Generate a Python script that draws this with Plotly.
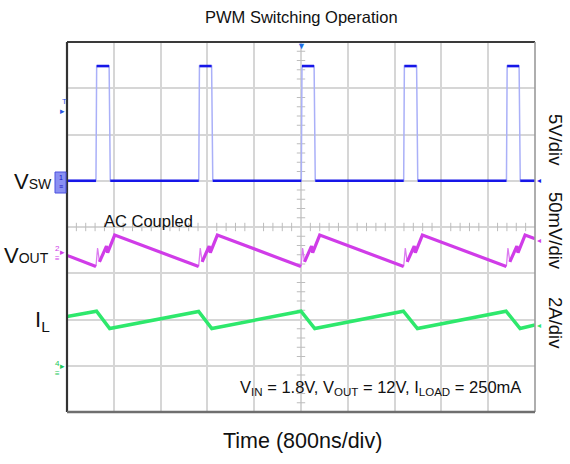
import plotly.graph_objects as go
import numpy as np

# ---------------- data (read from the scope capture) ----------------
# time in ns, 800 ns/div, trigger at t = 0 (screen centre)
sw_rise_ns = [-3505, -1748, 5, 1755, 3512]
sw_fall_ns = [-3280, -1528, 224, 1976, 3728]
sw_low_v = 0.0
sw_high_v = 12.4

vout_t_ns = [-4000,
             -3505, -3477, -3445, -3325, -3305, -3185,
             -1750, -1722, -1690, -1570, -1550, -1430,
             0, 28, 60, 180, 200, 320,
             1755, 1783, 1815, 1935, 1955, 2075,
             3510, 3538, 3570, 3690, 3710, 3830,
             4000]
vout_mv = [-4,
           -16, 4, -11, 6, -1, 18,
           -16, 4, -11, 6, -1, 18,
           -16, 4, -11, 6, -1, 18,
           -16, 4, -11, 6, -1, 18,
           -16, 4, -11, 6, -1, 18,
           14]

il_t_ns = [-4000, -3495, -3270, -1750, -1525, 0, 235, 1750, 1990, 3505, 3745, 4000]
il_a = [2.15, 2.38, 1.63, 2.37, 1.63, 2.38, 1.63, 2.38, 1.63, 2.38, 1.63, 1.78]

# scope settings
t_div_ns = 800
sw_v_div, sw_gnd_div = 5.0, 5.0
vout_mv_div, vout_gnd_div = 50.0, 3.466
il_a_div, il_gnd_div = 2.0, 0.99
n_xdiv, n_ydiv = 10, 8

# ---------------- colours / fonts ----------------
C_SW = '#1616e8'
C_SW_EDGE = '#aab0f8'
C_VOUT = '#d03ce8'
C_VOUT_THIN = '#dc7cf0'
C_IL = '#2ee86c'
FONT = 'Liberation Sans, Arial, sans-serif'

# plot-area geometry in pixels
W, H = 570, 464
L, R, T, B = 67, 35, 42, 52
PW, PH = W - L - R, H - T - B


def px(x):
    return (x - L) / PW


def py(y):
    return (H - B - y) / PH


def rng(scale, gnd):
    return [-gnd * scale, (n_ydiv - gnd) * scale]


fig = go.Figure()

# graticule minor ticks on the centre cross
x_half = n_xdiv / 2 * t_div_ns
tick_y = [v for v in np.arange(rng(sw_v_div, sw_gnd_div)[0], rng(sw_v_div, sw_gnd_div)[1] + 0.01, sw_v_div / 5)
          if abs(v / sw_v_div - round(v / sw_v_div)) > 1e-6]
fig.add_trace(go.Scatter(x=[0] * len(tick_y), y=tick_y, mode='markers', yaxis='y',
                         marker=dict(symbol='line-ew', size=6, line=dict(color='#bdbdbd', width=1)),
                         hoverinfo='skip'))
tick_x = [v for v in np.arange(-x_half, x_half + 1, t_div_ns / 5)
          if abs(v / t_div_ns - round(v / t_div_ns)) > 1e-6]
y_center_v = rng(sw_v_div, sw_gnd_div)[0] + n_ydiv / 2 * sw_v_div
fig.add_trace(go.Scatter(x=tick_x, y=[y_center_v] * len(tick_x), mode='markers', yaxis='y',
                         marker=dict(symbol='line-ns', size=6, line=dict(color='#bdbdbd', width=1)),
                         hoverinfo='skip'))

# inductor current
fig.add_trace(go.Scatter(x=il_t_ns, y=il_a, mode='lines', yaxis='y3',
                         line=dict(color=C_IL, width=3.5)))

# output voltage ripple: thick main trace, thin spike right after each dip
pts_per_cycle = 6
thick_x, thick_y, thin_x, thin_y = [], [], [], []
for i, (t, v) in enumerate(zip(vout_t_ns, vout_mv)):
    k = (i - 1) % pts_per_cycle if 0 < i < len(vout_t_ns) - 1 else -1
    if k == 0:          # dip
        thick_x += [t, None]
        thick_y += [v, None]
        thin_x += [t]
        thin_y += [v]
    elif k == 1:        # spike
        thin_x += [t]
        thin_y += [v]
    elif k == 2:        # back down
        thin_x += [t, None]
        thin_y += [v, None]
        thick_x += [t]
        thick_y += [v]
    else:
        thick_x += [t]
        thick_y += [v]
fig.add_trace(go.Scatter(x=thin_x, y=thin_y, mode='lines', yaxis='y2',
                         line=dict(color=C_VOUT_THIN, width=1.3)))
fig.add_trace(go.Scatter(x=thick_x, y=thick_y, mode='lines', yaxis='y2',
                         line=dict(color=C_VOUT, width=3.2)))

# switch node: light edges + dark flat levels
ex, ey = [-x_half], [sw_low_v]
for r, f in zip(sw_rise_ns, sw_fall_ns):
    ex += [r, r + 12, f, f + 20]
    ey += [sw_low_v, sw_high_v, sw_high_v, sw_low_v]
ex.append(x_half)
ey.append(sw_low_v)
fig.add_trace(go.Scatter(x=ex, y=ey, mode='lines', yaxis='y',
                         line=dict(color=C_SW_EDGE, width=1.5)))
fx, fy = [], []
starts = [-x_half] + [f + 20 for f in sw_fall_ns]
ends = list(sw_rise_ns) + [x_half]
for s, e in zip(starts, ends):
    fx += [s, e, None]
    fy += [sw_low_v, sw_low_v, None]
for r, f in zip(sw_rise_ns, sw_fall_ns):
    fx += [r + 12, f, None]
    fy += [sw_high_v, sw_high_v, None]
fig.add_trace(go.Scatter(x=fx, y=fy, mode='lines', yaxis='y',
                         line=dict(color=C_SW, width=2.6)))

grid = '#d6d6d6'
fig.update_layout(
    width=W, height=H,
    margin=dict(l=L, r=R, t=T, b=B),
    plot_bgcolor='white', paper_bgcolor='white',
    showlegend=False,
    font=dict(family=FONT, color='#111111'),
    xaxis=dict(range=[-x_half, x_half], dtick=t_div_ns, tick0=0, showgrid=True, gridcolor=grid,
               gridwidth=1.6, zeroline=False, showticklabels=False, ticks='', showline=False,
               fixedrange=True),
    yaxis=dict(range=rng(sw_v_div, sw_gnd_div), dtick=sw_v_div, tick0=0, showgrid=True, gridcolor=grid,
               gridwidth=1.6, zeroline=False, showticklabels=False, ticks='', showline=False),
    yaxis2=dict(range=rng(vout_mv_div, vout_gnd_div), overlaying='y', visible=False),
    yaxis3=dict(range=rng(il_a_div, il_gnd_div), overlaying='y', visible=False),
)

# frame
frame = [((0, 1), (1, 1), '#3a3a3a', 2.2), ((0, 0), (0, 1), '#333333', 2.2),
         ((1, 0), (1, 1), '#9a9a9a', 1.6), ((0, 0), (1, 0), '#6f6f6f', 2.4)]
for (x0, y0), (x1, y1), c, w in frame:
    fig.add_shape(type='line', xref='paper', yref='paper', x0=x0, y0=y0, x1=x1, y1=y1,
                  line=dict(color=c, width=w))

# channel-1 ground box
fig.add_shape(type='rect', xref='paper', yref='paper', x0=px(55), x1=px(66), y0=py(193), y1=py(172),
              fillcolor='#8a90f2', line=dict(color='#4a50e0', width=1))

ann = []


def text(x, y, s, size, color='#111111', xanchor='center', yanchor='middle', angle=0):
    ann.append(dict(x=px(x), y=py(y), xref='paper', yref='paper', text=s, showarrow=False,
                    xanchor=xanchor, yanchor=yanchor, textangle=angle,
                    font=dict(size=size, color=color, family=FONT)))


text(301, 17, 'PWM Switching Operation', 16.5)
text(302, 441, 'Time (800ns/div)', 21.5)
text(54, 181, 'V<span style="font-size:14px">SW</span>', 22, xanchor='right')
text(51, 255, 'V<span style="font-size:14px">OUT</span>', 22, xanchor='right')
text(52, 321, 'I<sub>L</sub>', 22, xanchor='right')
text(102, 221, 'AC Coupled', 16.5, xanchor='left')
text(523, 388, 'V<sub>IN</sub> = 1.8V, V<sub>OUT</sub> = 12V, I<sub>LOAD</sub> = 250mA', 16.5, xanchor='right')
text(556, 140, '5V/div', 18.5, angle=90)
text(556, 231, '50mV/div', 18.5, angle=90)
text(556, 323, '2A/div', 18.5, angle=90)

# channel markers
text(60.5, 182, '1<br>≡', 7, color='#1010c0')
text(62, 254, '2<br>≡', 8, color=C_VOUT, xanchor='right')
text(67, 251.7, '▸', 9, color=C_VOUT, xanchor='right')
text(62, 368, '4<br>≡', 8, color='#22c85a', xanchor='right')
text(67, 366, '▸', 9, color='#22c85a', xanchor='right')
text(64, 101, 'T', 8, color='#2a55e0')
text(67, 111, '▸', 9, color='#2a55e0', xanchor='right')
text(301, 46, '▼', 9, color='#1e6ee6')
text(535, 180, '◂', 8, color=C_SW, xanchor='left')
text(535, 240, '◂', 8, color=C_VOUT, xanchor='left')
text(535, 325, '◂', 8, color=C_IL, xanchor='left')

fig.update_layout(annotations=ann)
fig.write_html('out.html', include_plotlyjs=True, config={'displayModeBar': False})
